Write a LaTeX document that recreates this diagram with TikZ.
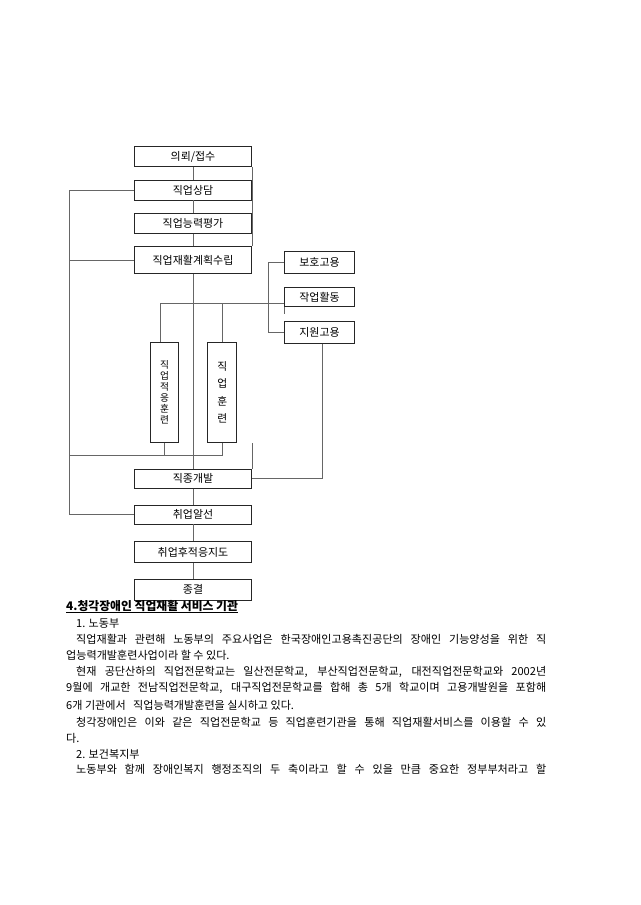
\documentclass[tikz,border=0pt]{standalone}
\usepackage{fontspec}
\setmainfont{Noto Sans CJK KR}
\newcommand\myul[1]{\setbox0\hbox{#1}\rlap{\raisebox{-2.6pt}{\rule{\wd0}{1.1pt}}}\box0}
\begin{document}
\begin{tikzpicture}[x=0.9302pt,y=-0.9302pt,
  mainbox/.style={draw=black!85, line width=0.8pt, inner sep=0pt, minimum width=109.5pt, font=\fontsize{10.2pt}{11pt}\selectfont},
  sidebox/.style={mainbox, minimum width=65.1pt},
  vbox/.style={draw=black!85, line width=0.8pt, inner sep=0pt, minimum height=93pt, align=center},
  conn/.style={draw=black!60, line width=0.8pt},
  txt/.style={inner sep=0pt, anchor=west, font=\fontsize{10.3pt}{12pt}\selectfont}]
\useasboundingbox (0,0) rectangle (640,905);
% main column
\node[mainbox, minimum height=18.6pt] (n1) at (193,156.7) {의뢰/접수};
\node[mainbox, minimum height=18pt]   (n2) at (193,190.3) {직업상담};
\node[mainbox, minimum height=18.6pt] (n3) at (193,223.3) {직업능력평가};
\node[mainbox, minimum height=25.1pt] (n4) at (193,260.3) {직업재활계획수립};
\node[mainbox, minimum height=17.7pt] (n5) at (193,478.8) {직종개발};
\node[mainbox, minimum height=17.7pt] (n6) at (193,514.5) {취업알선};
\node[mainbox, minimum height=19.5pt] (n7) at (193,552.2) {취업후적응지도};
\node[mainbox, minimum height=19.3pt] (n8) at (193,589.7) {종결};
% side boxes
\node[sidebox, minimum height=20.5pt] (r1) at (319.5,262) {보호고용};
\node[sidebox, minimum height=17.7pt] (r2) at (319.5,297) {작업활동};
\node[sidebox, minimum height=20.5pt] (r3) at (319.5,332.3) {지원고용};
% vertical boxes
\node[vbox, minimum width=25.7pt, font=\fontsize{9pt}{10.4pt}\selectfont] (v1) at (164.5,392.3) {직\\업\\적\\응\\훈\\련};
\node[vbox, minimum width=27pt, font=\fontsize{10pt}{16pt}\selectfont] (v2) at (222.2,392.3) {직\\업\\훈\\련};
% connectors
\draw[conn] (n1.south) -- (n2.north);
\draw[conn] (n2.south) -- (n3.north);
\draw[conn] (n3.south) -- (n4.north);
\draw[conn] (n4.south) -- (n5.north);
\draw[conn] (n5.south) -- (n6.north);
\draw[conn] (n6.south) -- (n7.north);
\draw[conn] (n7.south) -- (n8.north);
\draw[conn] (n1.south east) -- (n4.north east);
\coordinate (L) at (69,0);
\draw[conn] (n2.west) -- (n2.west -| L) |- (n6.west);
\draw[conn] (n4.west) -- (n4.west -| L);
\coordinate (H) at (0,455);
\draw[conn] (H -| L) -- (H -| v2.south) -- (v2.south);
\draw[conn] (v1.south) -- (v1.south |- H);
\coordinate (T) at (160,303);
\draw[conn] (v1.north -| T) -- (T) -- (T -| r2.west);
\draw[conn] (v2.north) -- (v2.north |- T);
\draw[conn] (r2.south west) -- ++(0,7);
\coordinate (R) at (268,0);
\draw[conn] (r1.west) -- (r1.west -| R) |- (r3.west);
\draw[conn] (n5.north east) -- (v1.south -| n5.north east);
\coordinate (S) at (322.7,0);
\draw[conn] (r3.south -| S) |- (n5.east);
% text
\node[txt, font=\fontsize{11pt}{12pt}\selectfont\bfseries] (h) at (66,607) {\myul{4.청각장애인 직업재활 서비스 기관}};
\node[txt] (t1) at (76,623.5) {1. 노동부};
\node[txt] (p1) at (76,639.5) {\makebox[437.2pt][s]{직업재활과 관련해 노동부의 주요사업은 한국장애인고용촉진공단의 장애인 기능양성을 위한 직}};
\node[txt] (p2) at (66,655.5) {업능력개발훈련사업이라 할 수 있다.};
\node[txt] (p3) at (76,672) {\makebox[437.2pt][s]{현재 공단산하의 직업전문학교는 일산전문학교, 부산직업전문학교, 대전직업전문학교와 2002년}};
\node[txt] (p4) at (66,688) {\makebox[446.5pt][s]{9월에 개교한 전남직업전문학교, 대구직업전문학교를 합해 총 5개 학교이며 고용개발원을 포함해}};
\node[txt] (p5) at (66,705.5) {6개 기관에서 \ \ 직업능력개발훈련을 실시하고 있다.};
\node[txt] (p6) at (76,722) {\makebox[437.2pt][s]{청각장애인은 이와 같은 직업전문학교 등 직업훈련기관을 통해 직업재활서비스를 이용할 수 있}};
\node[txt] (p7) at (66,738) {다.};
\node[txt] (t2) at (76,754) {2. 보건복지부};
\node[txt] (p8) at (76,769.5) {\makebox[437.2pt][s]{노동부와 함께 장애인복지 행정조직의 두 축이라고 할 수 있을 만큼 중요한 정부부처라고 할}};
\end{tikzpicture}
\end{document}
